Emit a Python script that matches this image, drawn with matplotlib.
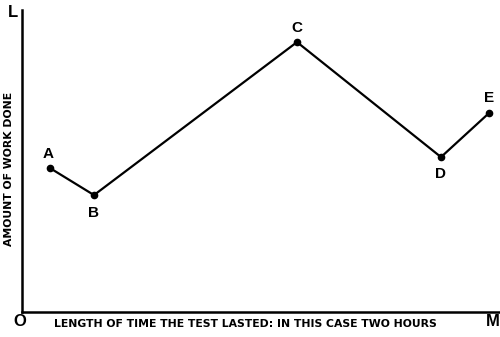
import matplotlib
matplotlib.use('Agg')
from matplotlib import pyplot as plt

# points (time, work done)
names = ['A', 'B', 'C', 'D', 'E']
time = [28, 72, 275, 419, 467]
work = [144, 117, 270, 155, 199]

plt.rcParams['font.family'] = ['Liberation Sans', 'DejaVu Sans']

fig = plt.figure(figsize=(5, 3.37), dpi=100)
ax = fig.add_axes([0.044, 0.074, 0.956, 0.896])
ax.set_xlim(0, 478)
ax.set_ylim(0, 302)

ax.plot(time, work, color='black', lw=1.6, marker='o', markersize=4.5, solid_joinstyle='miter')

# label offsets (points)
offs = {'A': (-1, 10), 'B': (0, -13), 'C': (0, 10), 'D': (0, -12), 'E': (0, 11)}
for n, t, w in zip(names, time, work):
    dx, dy = offs[n]
    ax.annotate(n, (t, w), xytext=(dx, dy), textcoords='offset points',
                ha='center', va='center', fontsize=11, fontweight='bold')

for s in ['top', 'right']:
    ax.spines[s].set_visible(False)
ax.spines['left'].set_linewidth(1.8)
ax.spines['bottom'].set_linewidth(1.8)
ax.set_xticks([])
ax.set_yticks([])

fig.text(0.026, 0.962, 'L', fontsize=12, fontweight='bold', ha='center', va='center')
fig.text(0.04, 0.045, 'O', fontsize=12, fontweight='bold', ha='center', va='center')
fig.text(0.986, 0.045, 'M', fontsize=12, fontweight='bold', ha='center', va='center')
fig.text(0.49, 0.038, 'LENGTH OF TIME THE TEST LASTED: IN THIS CASE TWO HOURS',
         fontsize=7.8, fontweight='bold', ha='center', va='center', family='DejaVu Sans')
fig.text(0.018, 0.50, 'AMOUNT OF WORK DONE', fontsize=7.8, fontweight='bold',
         rotation=90, ha='center', va='center', family='DejaVu Sans')

fig.savefig('out.png', dpi=100)
